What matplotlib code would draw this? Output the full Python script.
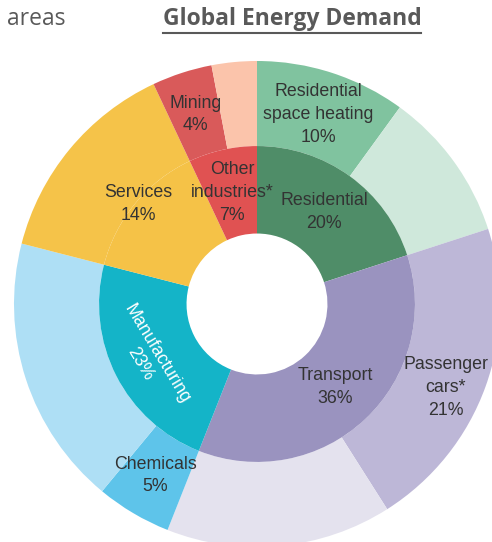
import numpy as np
import matplotlib.pyplot as plt
from matplotlib.lines import Line2D

# inner ring: sectors
inner_labels = ['Residential', 'Transport', 'Manufacturing', 'Services', 'Other\nindustries*']
inner_values = [20, 36, 23, 14, 7]
inner_colors = ['#4f8d68', '#9a93bf', '#14b4c8', '#f5c247', '#e05252']

# outer ring: sub-sectors (blank label = rest of the sector)
outer_labels = ['Residential\nspace heating', '', 'Passenger\ncars*', '', 'Chemicals', '',
                'Services', 'Mining', '']
outer_values = [10, 10, 21, 15, 5, 18, 14, 4, 3]
outer_colors = ['#80c39f', '#cfe8db', '#bdb7d7', '#e4e2ee', '#5ec4ea', '#aedff5',
                '#f5c349', '#d95a5a', '#fbc4ab']

W, H = 492, 542
cx, cy, R = 257, 238, 243   # pie centre and outer radius in pixels
r_hole, r_mid = 0.29, 0.65

fig = plt.figure(figsize=(W / 100, H / 100), dpi=100)
ax = fig.add_axes([0, 0, 1, 1])

ax.pie(outer_values, colors=outer_colors, radius=1, startangle=90, counterclock=False,
       wedgeprops=dict(width=1 - r_mid, linewidth=0))
ax.pie(inner_values, colors=inner_colors, radius=r_mid, startangle=90, counterclock=False,
       wedgeprops=dict(width=r_mid - r_hole, linewidth=0))
ax.set_xlim(-cx / R, (W - cx) / R)
ax.set_ylim(-cy / R, (H - cy) / R)
ax.axis('off')

font = dict(family=['Liberation Sans', 'DejaVu Sans'], fontsize=12.8, color='#333333',
            ha='center', va='center', linespacing=1.45)


def mid_angles(values):
    v = np.array(values, dtype=float)
    edges = 90 - 360 * np.concatenate([[0], np.cumsum(v)]) / v.sum()
    return (edges[:-1] + edges[1:]) / 2


for lab, val, ang in zip(inner_labels, inner_values, mid_angles(inner_values)):
    r = 0.47
    kw = dict(font)
    if lab == 'Services':
        r = 0.64
        ang -= 0.5
    if lab == 'Manufacturing':
        r = 0.5
        kw.update(color='white', rotation=-59, rotation_mode='anchor', linespacing=1.2)
    a = np.radians(ang)
    ax.text(r * np.cos(a), r * np.sin(a), f'{lab}\n{val}%', **kw)

for lab, val, ang in zip(outer_labels, outer_values, mid_angles(outer_values)):
    if not lab or lab == 'Services':
        continue
    r = 0.82
    if lab.startswith('Passenger'):
        r, ang = 0.85, ang - 4
    a = np.radians(ang)
    ax.text(r * np.cos(a), r * np.sin(a), f'{lab}\n{val}%', **font)

title_font = dict(family=['Open Sans', 'DejaVu Sans'], fontsize=16.5, color='#595959', va='center')
fig.text(7 / W, 1 - 19 / H, 'areas', ha='left', **title_font)
title = fig.text(292 / W, 1 - 19 / H, 'Global Energy Demand', ha='center', weight='bold', **title_font)

# underline the title
fig.canvas.draw()
bb = title.get_window_extent()
uy = 1 - 33 / H
fig.add_artist(Line2D([bb.x0 / W, bb.x1 / W], [uy, uy], transform=fig.transFigure,
                      color='#595959', linewidth=1.5))

fig.savefig('out.png', dpi=100)
